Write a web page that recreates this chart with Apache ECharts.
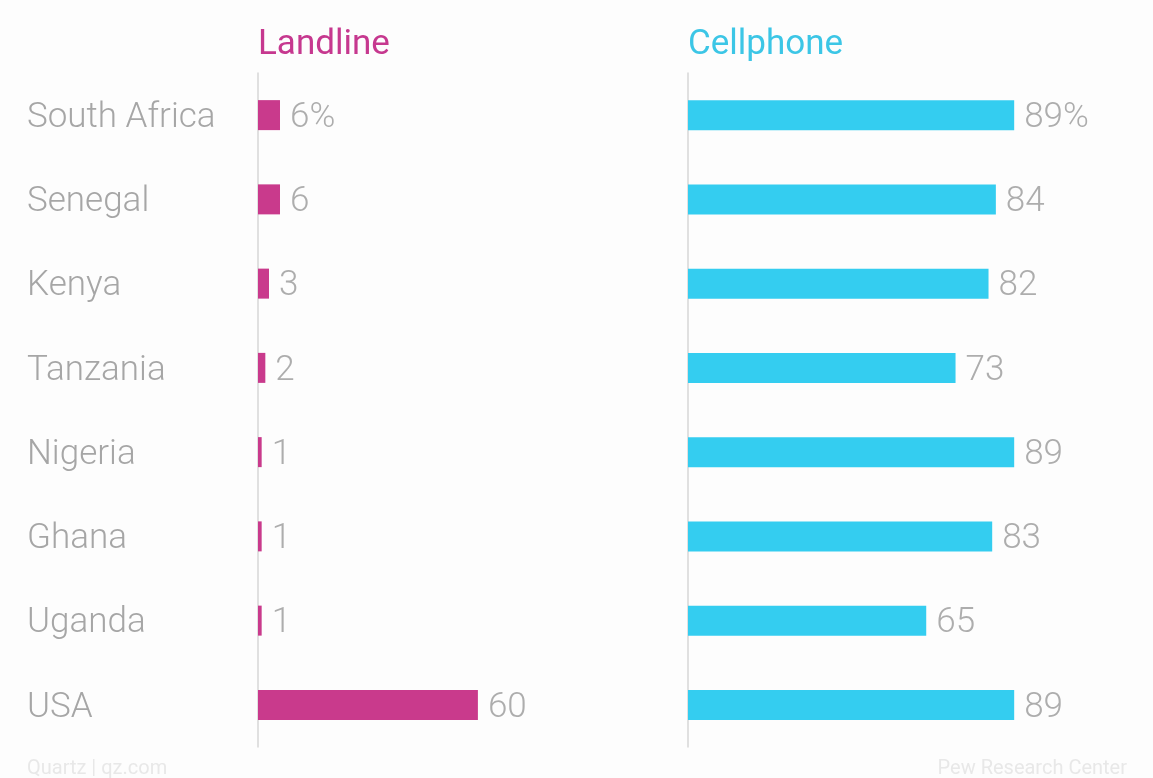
<!DOCTYPE html>
<html><head><meta charset="utf-8">
<script src="https://cdn.jsdelivr.net/npm/echarts@6/dist/echarts.min.js"></script>
<style>html,body{margin:0;padding:0;background:#fdfdfd}#c{width:1153px;height:778px}</style>
</head><body><div id="c"></div>
<script>
const countries = ['South Africa','Senegal','Kenya','Tanzania','Nigeria','Ghana','Uganda','USA'];
const landline = [6,6,3,2,1,1,1,60];
const cellphone = [89,84,82,73,89,83,65,89];

const chart = echarts.init(document.getElementById('c'));
const font = 'Roboto, "Open Sans", sans-serif';
const lab = (p) => p.dataIndex === 0 ? p.value + '%' : String(p.value);
const catAxis = (gi, show) => ({
  type: 'category', gridIndex: gi, data: countries, inverse: true,
  axisLine: {show: true, lineStyle: {color: '#d6d6d6', width: 1.5}},
  axisTick: {show: false},
  splitLine: {show: false},
  axisLabel: {show: show, align: 'left', margin: 231,
    formatter: (v) => '{a|' + v + '}',
    rich: {a: {padding: [6, 0, 0, 0], color: '#a6a6a6', fontSize: 35, fontFamily: font, fontWeight: 300}},
    color: '#a6a6a6', fontSize: 35, fontFamily: font, fontWeight: 300}
});
const valAxis = (gi) => ({
  type: 'value', gridIndex: gi, min: 0, max: 100,
  show: false
});
const valLabel = {show: true, position: 'right', distance: 10, offset: [0, 3], formatter: lab, color: '#adadad', fontSize: 35, fontFamily: font, fontWeight: 300};
chart.setOption({
  backgroundColor: '#fdfdfd',
  animation: false,
  title: [
    {text: 'Landline', left: 258, top: 28, padding: 0, textStyle: {color: '#c6388f', fontSize: 35, fontWeight: 'normal', fontFamily: font}},
    {text: 'Cellphone', left: 688, top: 28, padding: 0, textStyle: {color: '#3cc6e6', fontSize: 35, fontWeight: 'normal', fontFamily: font}},
    {text: 'Quartz | qz.com', left: 27, top: 759, padding: 0, textStyle: {color: '#e8e8e8', fontSize: 20, fontWeight: 'normal', fontFamily: font}},
    {text: 'Pew Research Center', right: 26, top: 759, padding: 0, textStyle: {color: '#e8e8e8', fontSize: 20, fontWeight: 'normal', fontFamily: font}}
  ],
  grid: [
    {left: 258, top: 73, width: 366.5, height: 674},
    {left: 688, top: 73, width: 366.5, height: 674}
  ],
  xAxis: [valAxis(0), valAxis(1)],
  yAxis: [catAxis(0, true), catAxis(1, false)],
  series: [
    {type: 'bar', xAxisIndex: 0, yAxisIndex: 0, data: landline, barWidth: 30,
     itemStyle: {color: '#c93a8c'}, label: valLabel},
    {type: 'bar', xAxisIndex: 1, yAxisIndex: 1, data: cellphone, barWidth: 30,
     itemStyle: {color: '#34cdf0'}, label: valLabel}
  ]
});
</script></body></html>
